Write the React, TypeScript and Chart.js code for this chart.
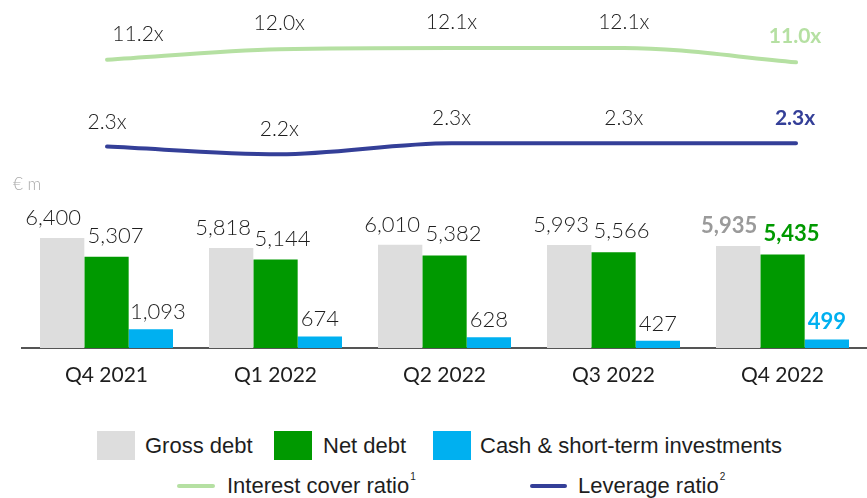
import React, { useEffect, useRef } from "react";
import { Chart, registerables } from "chart.js";

Chart.register(...registerables);

const categories = ["Q4 2021", "Q1 2022", "Q2 2022", "Q3 2022", "Q4 2022"];
const grossDebt = [6400, 5818, 6010, 5993, 5935];
const netDebt = [5307, 5144, 5382, 5566, 5435];
const cashInvestments = [1093, 674, 628, 427, 499];
const interestCover = [11.2, 12.0, 12.1, 12.1, 11.0];
const leverageRatio = [2.27, 2.2, 2.3, 2.3, 2.3];

const FONT = 'Lato, "Open Sans", sans-serif';
const LEGEND_FONT = '"Liberation Sans", Arial, sans-serif';
const TEXT = "#1e1e1e";
const GREY = "#dddddd";
const GREEN = "#009900";
const CYAN = "#00b0f0";
const LIGHT_GREEN = "#b5e0a2";
const NAVY = "#343f98";

const fmtThousands = (v: number) => v.toLocaleString("en-US");
const fmtRatio = (v: number) => v.toFixed(1) + "x";

const valueLabels = {
  id: "valueLabels",
  afterDatasetsDraw(chart: any) {
    const ctx = chart.ctx;
    chart.data.datasets.forEach((ds: any, i: number) => {
      const st = ds.labelStyle;
      if (!st) return;
      const meta = chart.getDatasetMeta(i);
      meta.data.forEach((el: any, j: number) => {
        const raw = ds.data[j];
        const v = typeof raw === "object" ? raw.y : raw;
        ctx.save();
        ctx.font = `${st.bold[j] ? "bold" : "300"} ${st.size}px ${FONT}`;
        ctx.fillStyle = st.colors[j];
        ctx.textAlign = "center";
        ctx.textBaseline = "alphabetic";
        ctx.fillText(st.format(v), el.x + st.dx[j], el.y - st.dy);
        ctx.restore();
      });
    });
  },
};

const lastBold = [false, false, false, false, true];
const colorsLast = (c: string) => [TEXT, TEXT, TEXT, TEXT, c];

export default function App() {
  const barRef = useRef<HTMLCanvasElement | null>(null);
  const lineRef = useRef<HTMLCanvasElement | null>(null);

  useEffect(() => {
    document.body.style.margin = "0";
    document.body.style.overflow = "hidden";

    const barChart = new Chart(barRef.current as HTMLCanvasElement, {
      type: "bar",
      data: {
        labels: categories,
        datasets: [
          {
            label: "Gross debt",
            data: grossDebt,
            backgroundColor: GREY,
            labelStyle: { size: 22, dy: 13, dx: [-9, -8, -8, -8, -9], bold: lastBold, colors: colorsLast("#9a9a9a"), format: fmtThousands },
          } as any,
          {
            label: "Net debt",
            data: netDebt,
            backgroundColor: GREEN,
            labelStyle: { size: 22, dy: 14, dx: [9, 7, 9, 8, 9], bold: lastBold, colors: colorsLast(GREEN), format: fmtThousands },
          } as any,
          {
            label: "Cash & short-term investments",
            data: cashInvestments,
            backgroundColor: CYAN,
            labelStyle: { size: 22, dy: 10, dx: [7, 0, 0, 0, 0], bold: lastBold, colors: colorsLast(CYAN), format: fmtThousands },
          } as any,
        ],
      },
      options: {
        responsive: false,
        animation: false,
        layout: { padding: { left: 22, right: 0, top: 0, bottom: 0 } },
        datasets: { bar: { barPercentage: 1, categoryPercentage: 0.787 } },
        plugins: { legend: { display: false }, tooltip: { enabled: false } },
        scales: {
          x: {
            type: "category",
            offset: true,
            grid: { display: false, drawTicks: false },
            border: { display: true, color: "#555555", width: 2 },
            ticks: { color: TEXT, font: { family: FONT, size: 21 }, padding: 15 },
            afterFit: (axis: any) => {
              axis.height = 52;
            },
          },
          y: { display: false, min: 0, max: 20247 },
        },
      } as any,
      plugins: [valueLabels],
    });

    const lineChart = new Chart(lineRef.current as HTMLCanvasElement, {
      type: "line",
      data: {
        datasets: [
          {
            label: "Interest cover ratio",
            data: interestCover.map((v, i) => ({ x: i, y: v })),
            yAxisID: "yic",
            borderColor: LIGHT_GREEN,
            borderWidth: 4,
            borderCapStyle: "round",
            pointRadius: 0,
            cubicInterpolationMode: "monotone",
            labelStyle: { size: 21, dy: 19, dx: [31, 0, 0, 0, -1], bold: lastBold, colors: colorsLast(LIGHT_GREEN), format: fmtRatio },
          } as any,
          {
            label: "Leverage ratio",
            data: leverageRatio.map((v, i) => ({ x: i, y: v })),
            yAxisID: "ylev",
            borderColor: NAVY,
            borderWidth: 4,
            borderCapStyle: "round",
            pointRadius: 0,
            cubicInterpolationMode: "monotone",
            labelStyle: { size: 21, dy: 18, dx: [0, 0, 0, 0, -1], bold: lastBold, colors: colorsLast(NAVY), format: fmtRatio },
          } as any,
        ],
      },
      options: {
        responsive: false,
        animation: false,
        layout: { padding: { left: 22, right: 0, top: 0, bottom: 0 } },
        plugins: { legend: { display: false }, tooltip: { enabled: false } },
        scales: {
          x: { type: "linear", display: false, offset: false, min: -0.4935, max: 4.412 },
          yic: { type: "linear", position: "left", display: false, min: -10.98, max: 15.79 },
          ylev: { type: "linear", position: "left", display: false, min: 0.439, max: 3.6027 },
        },
      } as any,
      plugins: [valueLabels],
    });

    return () => {
      barChart.destroy();
      lineChart.destroy();
    };
  }, []);

  const abs = (left: number, top: number, extra: any = {}) => ({ position: "absolute" as const, left, top, ...extra });
  const text = (left: number, top: number) =>
    abs(left, top, { fontFamily: LEGEND_FONT, fontSize: 22, lineHeight: "22px", color: TEXT, whiteSpace: "nowrap" });
  const sup = { fontSize: 10, verticalAlign: "top", lineHeight: "10px", position: "relative" as const, top: -3, marginLeft: 1 };

  return (
    <div style={{ position: "fixed", left: 0, top: 0, width: 867, height: 498, background: "#fff", overflow: "hidden" }}>
      <canvas ref={barRef} width={867} height={400} style={{ position: "absolute", left: 0, top: 0 }} />
      <canvas ref={lineRef} width={867} height={348} style={{ position: "absolute", left: 0, top: 0, pointerEvents: "none" }} />
      <div style={abs(13, 174, { fontFamily: FONT, fontSize: 17, fontWeight: 300, color: "#aaaaaa", lineHeight: "20px" })}>€ m</div>

      <div style={abs(97, 431, { width: 38, height: 29, background: GREY })} />
      <div style={text(145, 435)}>Gross debt</div>
      <div style={abs(274, 431, { width: 38, height: 29, background: GREEN })} />
      <div style={text(323, 435)}>Net debt</div>
      <div style={abs(433, 431, { width: 38, height: 29, background: CYAN })} />
      <div style={text(480, 435)}>Cash &amp; short-term investments</div>

      <div style={abs(177, 484, { width: 38, height: 4, borderRadius: 2, background: LIGHT_GREEN })} />
      <div style={text(227, 475)}>
        Interest cover ratio<sup style={sup}>1</sup>
      </div>
      <div style={abs(530, 484, { width: 37, height: 4, borderRadius: 2, background: NAVY })} />
      <div style={text(578, 475)}>
        Leverage ratio<sup style={sup}>2</sup>
      </div>
    </div>
  );
}
